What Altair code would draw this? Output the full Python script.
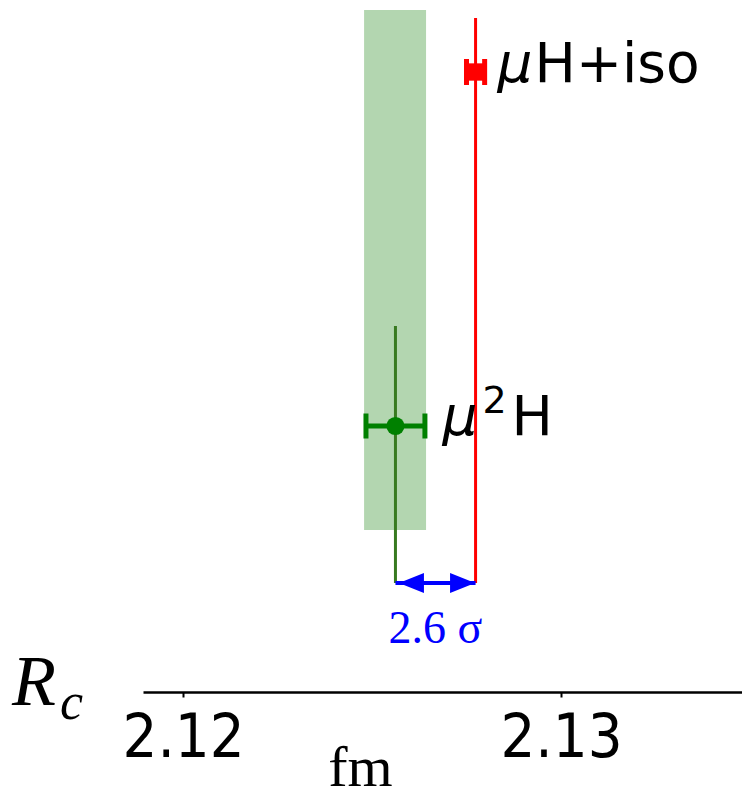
import altair as alt
import pandas as pd

# ---- data ----
series = ["μH+iso", "μ²H"]
radius = [2.12774, 2.12562]          # fm
error = [0.00024, 0.00078]           # fm
row = [1, 0]                         # vertical slot of each measurement
series_color = ["#ff0000", "#008000"]
line_color = ["#ff0000", "#387a20"]

band_lo = [2.12479]                  # green uncertainty band
band_hi = [2.12643]
sigma_label = ["2.6 σ"]
tick_values = [2.12, 2.13]
x_domain = [2.11894, 2.13479]
y_domain = [-0.7514, 1.1808]

# vertical extents (row units)
red_line_y = [-0.4435, 1.1525]
green_line_y = [-0.4435, 0.2825]
band_y = [-0.2938, 1.1751]
arrow_y = -0.4435

W, H = 599, 684

xs = alt.Scale(domain=x_domain, nice=False, zero=False)
ys = alt.Scale(domain=y_domain, nice=False, zero=False)

x_axis = alt.Axis(
    values=tick_values, format=".2f", grid=False,
    labelFont="DejaVu Sans Condensed", labelFontSize=61, labelColor="black",
    labelPadding=11, tickSize=5, tickWidth=2, tickColor="black",
    domainColor="black", domainWidth=2.5,
    title="fm", titleFont="Liberation Serif", titleFontSize=58,
    titleFontWeight="normal", titleColor="black",
    titleX=217, titleY=93, titleAlign="center", titleBaseline="alphabetic",
    labelFlush=False,
)

band_df = pd.DataFrame({"lo": band_lo, "hi": band_hi,
                        "y0": [band_y[0]], "y1": [band_y[1]]})
band = alt.Chart(band_df).mark_rect(color="#b3d6b0").encode(
    x=alt.X("lo:Q", scale=xs, axis=x_axis),
    x2="hi:Q",
    y=alt.Y("y0:Q", scale=ys, axis=None),
    y2="y1:Q",
)

layers = [band]

# vertical reference lines
for i, ext in [(0, red_line_y), (1, green_line_y)]:
    df = pd.DataFrame({"x": [radius[i]], "y0": [ext[0]], "y1": [ext[1]]})
    layers.append(
        alt.Chart(df).mark_rule(color=line_color[i], strokeWidth=3).encode(
            x=alt.X("x:Q", scale=xs), y=alt.Y("y0:Q", scale=ys), y2="y1:Q"
        )
    )

# error bars, caps and markers
for i in range(2):
    df = pd.DataFrame({
        "x": [radius[i]], "y": [row[i]],
        "lo": [radius[i] - error[i]], "hi": [radius[i] + error[i]],
    })
    c = series_color[i]
    base = alt.Chart(df)
    layers.append(
        base.mark_rule(color=c, strokeWidth=5).encode(
            x=alt.X("lo:Q", scale=xs), x2="hi:Q", y=alt.Y("y:Q", scale=ys)
        )
    )
    for f in ["lo", "hi"]:
        layers.append(
            base.mark_tick(color=c, orient="vertical", thickness=5,
                           size=26 if i == 0 else 25, opacity=1).encode(
                x=alt.X(f + ":Q", scale=xs), y=alt.Y("y:Q", scale=ys)
            )
        )
    if i == 0:
        mk = base.mark_point(shape="square", filled=True, color=c, size=300, opacity=1)
    else:
        mk = base.mark_point(shape="circle", filled=True, color=c, size=330, opacity=1)
    layers.append(mk.encode(x=alt.X("x:Q", scale=xs), y=alt.Y("y:Q", scale=ys)))

# series labels (math-style pieces)
label_pieces = {
    0: [("μ", "italic", 55, 22, 10), ("H+iso", "normal", 55, 59, 10)],
    1: [("μ", "italic", 55, 47, 9), ("2", "normal", 38, 87, -13), ("H", "normal", 55, 116, 9)],
}
for i, pieces in label_pieces.items():
    for txt, style, size, dx, dy in pieces:
        df = pd.DataFrame({"x": [radius[i]], "y": [row[i]], "t": [txt]})
        layers.append(
            alt.Chart(df).mark_text(
                font="DejaVu Sans", fontSize=size, fontStyle=style, color="black",
                align="left", baseline="alphabetic", dx=dx, dy=dy,
            ).encode(x=alt.X("x:Q", scale=xs), y=alt.Y("y:Q", scale=ys), text="t:N")
        )

# blue double arrow between the two central values
arr_df = pd.DataFrame({"a": [radius[1]], "b": [radius[0]], "y": [arrow_y],
                       "m": [(radius[0] + radius[1]) / 2], "t": sigma_label})
arr = alt.Chart(arr_df)
layers.append(
    arr.mark_rule(color="#0000ff", strokeWidth=4).encode(
        x=alt.X("a:Q", scale=xs), x2="b:Q", y=alt.Y("y:Q", scale=ys)
    )
)
layers.append(
    arr.mark_point(shape="M-1,0L1,-0.8L1,0.8Z", filled=True, color="#0000ff",
                   size=625, opacity=1, xOffset=16, strokeWidth=0).encode(
        x=alt.X("a:Q", scale=xs), y=alt.Y("y:Q", scale=ys)
    )
)
layers.append(
    arr.mark_point(shape="M1,0L-1,-0.8L-1,0.8Z", filled=True, color="#0000ff",
                   size=625, opacity=1, xOffset=-13, strokeWidth=0).encode(
        x=alt.X("b:Q", scale=xs), y=alt.Y("y:Q", scale=ys)
    )
)
layers.append(
    arr.mark_text(font="Liberation Serif", fontSize=46, color="#0000ff",
                  align="center", baseline="alphabetic", dy=60).encode(
        x=alt.X("m:Q", scale=xs), y=alt.Y("y:Q", scale=ys), text="t:N"
    )
)

# R_c quantity label
rc_df = pd.DataFrame({"t": ["R"], "s": ["c"]})
layers.append(
    alt.Chart(rc_df).mark_text(font="Liberation Serif", fontSize=72, fontStyle="italic",
                               color="black", align="left", baseline="alphabetic").encode(
        x=alt.value(-131), y=alt.value(697), text="t:N"
    )
)
layers.append(
    alt.Chart(rc_df).mark_text(font="Liberation Serif", fontSize=52, fontStyle="italic",
                               color="black", align="left", baseline="alphabetic").encode(
        x=alt.value(-83), y=alt.value(711), text="s:N"
    )
)

chart = alt.layer(*layers).properties(
    width=W, height=H,
    autosize=alt.AutoSizeParams(type="none"),
    padding={"left": 135, "right": 0, "top": 0, "bottom": 107},
).configure(background="#ffffff").configure_view(stroke=None, strokeWidth=0)

chart.save("out.html", embed_options={"renderer": "svg", "actions": False})
